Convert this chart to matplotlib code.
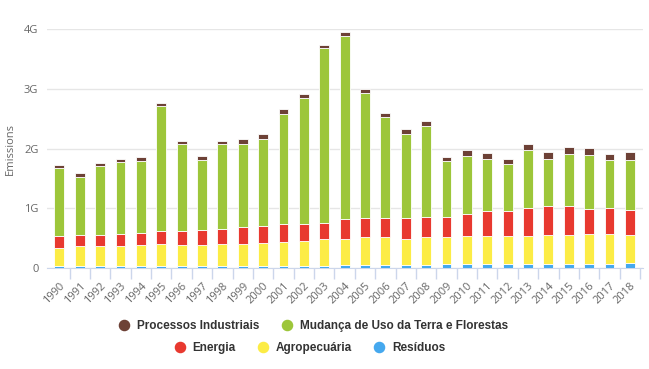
import numpy as np
import matplotlib.pyplot as plt
from matplotlib.lines import Line2D
from matplotlib.ticker import FuncFormatter

years = list(range(1990, 2019))

# emissions in G (10^9), per sector
residuos = [0.03, 0.03, 0.03, 0.03, 0.03, 0.03, 0.03, 0.03, 0.03, 0.03,
            0.03, 0.03, 0.03, 0.03, 0.05, 0.05, 0.05, 0.05, 0.05, 0.06,
            0.06, 0.06, 0.06, 0.06, 0.06, 0.06, 0.06, 0.06, 0.09]
agropecuaria = [0.31, 0.33, 0.33, 0.33, 0.35, 0.37, 0.35, 0.35, 0.37, 0.37,
                0.38, 0.40, 0.42, 0.45, 0.44, 0.46, 0.46, 0.44, 0.46, 0.45,
                0.48, 0.48, 0.48, 0.48, 0.49, 0.49, 0.51, 0.51, 0.46]
energia = [0.20, 0.19, 0.19, 0.21, 0.21, 0.22, 0.24, 0.26, 0.26, 0.29,
           0.30, 0.30, 0.29, 0.28, 0.33, 0.32, 0.32, 0.34, 0.35, 0.35,
           0.36, 0.41, 0.42, 0.46, 0.49, 0.48, 0.42, 0.43, 0.42]
mudanca = [1.13, 0.98, 1.15, 1.20, 1.20, 2.09, 1.46, 1.16, 1.42, 1.39,
           1.45, 1.85, 2.10, 2.92, 3.06, 2.10, 1.70, 1.42, 1.51, 0.93,
           0.98, 0.88, 0.78, 0.98, 0.79, 0.88, 0.90, 0.81, 0.84]
processos = [0.06, 0.06, 0.05, 0.06, 0.06, 0.05, 0.05, 0.08, 0.05, 0.08,
             0.08, 0.08, 0.08, 0.05, 0.07, 0.07, 0.07, 0.08, 0.09, 0.06,
             0.09, 0.10, 0.09, 0.10, 0.11, 0.11, 0.12, 0.10, 0.13]

series = [("Resíduos", residuos, "#45a8ee"),
          ("Agropecuária", agropecuaria, "#fcec45"),
          ("Energia", energia, "#e8392f"),
          ("Mudança de Uso da Terra e Florestas", mudanca, "#9dc63a"),
          ("Processos Industriais", processos, "#6d4136")]

plt.rcParams['font.family'] = ['Open Sans', 'DejaVu Sans']

fig = plt.figure(figsize=(6.49, 3.69), dpi=100)
ax = fig.add_axes([0.072, 0.274, 0.918, 0.647])

x = np.arange(len(years))
bottom = np.zeros(len(years))
for name, vals, col in series:
    ax.bar(x, vals, 0.48, bottom=bottom, color=col, edgecolor='white',
           linewidth=0.6, zorder=3)
    bottom += np.array(vals)

ax.set_ylim(0, 4)
ax.set_xlim(-0.62, len(years) - 0.38)
ax.set_yticks([0, 1, 2, 3, 4])
ax.yaxis.set_major_formatter(FuncFormatter(lambda v, p: "0" if v == 0 else f"{v:g}G"))
ax.grid(axis='y', color='#e6e6e6', linewidth=1, zorder=0)
ax.tick_params(axis='y', length=0, labelsize=8, labelcolor='#666666', pad=6)

ax.set_xticks(x)
ax.set_xticklabels([str(y) for y in years], rotation=45, ha='right',
                   rotation_mode='anchor')
ax.set_xticks(x + 0.5, minor=True)
ax.tick_params(axis='x', which='major', length=0, labelsize=8,
               labelcolor='#666666', pad=9)
ax.tick_params(axis='x', which='minor', length=8, color='#ccd6eb', width=1)

for s in ['top', 'right', 'left']:
    ax.spines[s].set_visible(False)
ax.spines['bottom'].set_color('#ccd6eb')

ax.set_ylabel("Emissions", color='#666666', fontsize=8, labelpad=6)

def handle(col):
    return Line2D([], [], marker='o', linestyle='', markersize=7.3,
                  markerfacecolor=col, markeredgecolor=col)

lfont = {'family': ['Liberation Sans', 'DejaVu Sans'], 'weight': 'bold', 'size': 8.5}
row1 = [series[4], series[3]]
row2 = [series[2], series[1], series[0]]
kw = dict(loc='center', frameon=False, prop=lfont, handlelength=0.8,
          handletextpad=0.7, columnspacing=1.9, labelcolor='#333333',
          borderpad=0, borderaxespad=0)
leg1 = fig.legend([handle(c) for _, _, c in row1], [n for n, _, _ in row1],
                  bbox_to_anchor=(0.483, 1 - 326 / 369), ncol=2, **kw)
leg2 = fig.legend([handle(c) for _, _, c in row2], [n for n, _, _ in row2],
                  bbox_to_anchor=(0.478, 1 - 348 / 369), ncol=3, **kw)

fig.savefig("out.png", dpi=100)
